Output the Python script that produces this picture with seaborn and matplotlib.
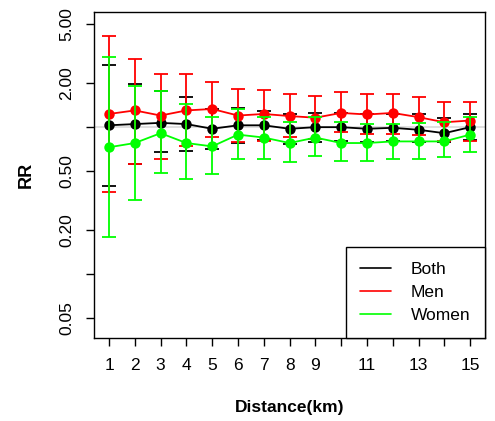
import numpy as np
import pandas as pd
import matplotlib
matplotlib.use("Agg")
import matplotlib.pyplot as plt
import seaborn as sns

# Relative risk by distance, with 95% CI
distance = list(range(1, 16))

both_rr = [1.03, 1.05, 1.07, 1.05, 0.975, 1.03, 1.03, 0.975, 1.0, 1.0, 0.975, 0.99, 0.96, 0.91, 1.0]
both_lo = [0.40, 0.56, 0.68, 0.69, 0.71, 0.78, 0.82, 0.77, 0.79, 0.80, 0.79, 0.80, 0.79, 0.79, 0.82]
both_hi = [2.63, 1.98, 1.76, 1.60, 1.32, 1.35, 1.29, 1.22, 1.25, 1.24, 1.22, 1.22, 1.23, 1.16, 1.23]

men_rr = [1.23, 1.30, 1.20, 1.30, 1.33, 1.20, 1.23, 1.19, 1.16, 1.25, 1.22, 1.25, 1.17, 1.08, 1.11]
men_lo = [0.363, 0.56, 0.61, 0.74, 0.855, 0.79, 0.80, 0.855, 0.83, 0.925, 0.90, 0.90, 0.88, 0.81, 0.81]
men_hi = [4.2, 2.90, 2.31, 2.31, 2.02, 1.82, 1.78, 1.68, 1.64, 1.73, 1.68, 1.68, 1.60, 1.48, 1.48]

women_rr = [0.73, 0.78, 0.91, 0.78, 0.74, 0.89, 0.85, 0.78, 0.85, 0.78, 0.78, 0.80, 0.80, 0.80, 0.89]
women_lo = [0.18, 0.32, 0.49, 0.445, 0.48, 0.61, 0.61, 0.58, 0.64, 0.59, 0.59, 0.61, 0.61, 0.63, 0.68]
women_hi = [2.99, 1.91, 1.76, 1.44, 1.17, 1.33, 1.17, 1.08, 1.17, 1.08, 1.05, 1.05, 1.07, 1.09, 1.17]

groups = ["Both", "Men", "Women"]
colors = {"Both": "black", "Men": "#ff0000", "Women": "#00ff00"}

series = {
    "Both": (both_rr, both_lo, both_hi),
    "Men": (men_rr, men_lo, men_hi),
    "Women": (women_rr, women_lo, women_hi),
}

rows = []
for g in groups:
    rr, lo, hi = series[g]
    for d, r, l, h in zip(distance, rr, lo, hi):
        rows.append({"Distance": d, "RR": r, "lo": l, "hi": h, "Group": g})
df = pd.DataFrame(rows)

sns.set_style("ticks")
plt.rcParams["font.family"] = ["Liberation Sans", "DejaVu Sans"]
plt.rcParams["text.color"] = "black"
plt.rcParams["axes.labelcolor"] = "black"
plt.rcParams["xtick.color"] = "black"
plt.rcParams["ytick.color"] = "black"

fig = plt.figure(figsize=(4.95, 4.21), dpi=100)
ax = fig.add_axes([0.190, 0.197, 0.790, 0.774])

ax.axhline(1.0, color="#d9d9d9", lw=1.2, zorder=0)

for g in groups:
    sub = df[df["Group"] == g]
    ax.errorbar(sub["Distance"], sub["RR"],
                yerr=[sub["RR"] - sub["lo"], sub["hi"] - sub["RR"]],
                fmt="none", ecolor=colors[g], elinewidth=1.3,
                capsize=5, capthick=1.3)
    sns.lineplot(data=sub, x="Distance", y="RR", color=colors[g], lw=1.3,
                 marker="o", markersize=7.5, markeredgewidth=0, ax=ax,
                 label=None, legend=False)

ax.set_yscale("log")
ax.set_ylim(0.0367, 6.06)
ax.set_xlim(0.42, 15.58)

yt = [0.05, 0.1, 0.2, 0.5, 1.0, 2.0, 5.0]
ylab = ["0.05", "", "0.20", "0.50", "", "2.00", "5.00"]
ax.set_yticks(yt)
ax.set_yticklabels(ylab, rotation=90, va="center", fontsize=12.5)
ax.yaxis.set_minor_locator(matplotlib.ticker.NullLocator())

ax.set_xticks(distance)
ax.set_xticklabels([str(d) if d not in (10, 12, 14) else "" for d in distance],
                   fontsize=12.5)

ax.tick_params(axis="both", length=6, width=1, pad=8)
for s in ax.spines.values():
    s.set_color("black")
    s.set_linewidth(1)

ax.set_xlabel("Distance(km)", fontsize=12.5, fontweight="bold", labelpad=20)
ax.set_ylabel("RR", fontsize=13, fontweight="bold", labelpad=18)

handles = [plt.Line2D([], [], color=colors[g], lw=1.2) for g in groups]
leg = ax.legend(handles, groups, loc="lower right", borderaxespad=0,
                fancybox=False, framealpha=1, edgecolor="black",
                fontsize=12.5, handlelength=1.75, handletextpad=1.15,
                borderpad=0.85, labelspacing=0.45)
leg.get_frame().set_linewidth(1)

fig.savefig("out.png", dpi=100)
